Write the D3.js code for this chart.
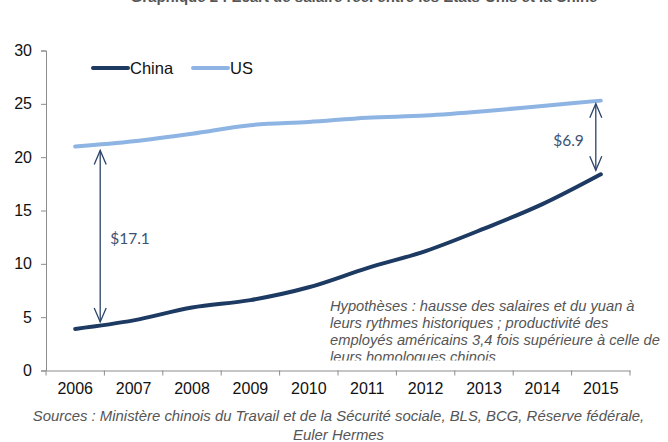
<!DOCTYPE html>
<html>
<head>
<meta charset="utf-8">
<script src="https://cdn.jsdelivr.net/npm/d3@7"></script>
<style>
  html, body { margin: 0; padding: 0; background: #fff; }
  svg { display: block; }
</style>
</head>
<body>
<svg id="chart" width="668" height="442"></svg>
<script>
// Real hourly wage, US vs China (USD)
const years = ["2006", "2007", "2008", "2009", "2010", "2011", "2012", "2013", "2014", "2015"];
const china = [3.9, 4.7, 5.9, 6.6, 7.8, 9.6, 11.2, 13.3, 15.6, 18.4];
const us = [21.0, 21.5, 22.2, 23.0, 23.3, 23.7, 23.9, 24.3, 24.8, 25.3];
const yTicks = [0, 5, 10, 15, 20, 25, 30];
const seriesNames = ["China", "US"];
const gapLabels = ["$17.1", "$6.9"];
const gapYears = ["2006", "2015"];

const colors = { China: "#1d3a63", US: "#8db4e3" };
const series = [
  { name: "China", values: china },
  { name: "US", values: us }
];

const svg = d3.select("#chart");
const margin = { left: 46, right: 38, top: 50.5, bottom: 71.5 };
const W = 668, H = 442;

const x = d3.scaleBand().domain(years).range([margin.left, W - margin.right]);
const y = d3.scaleLinear().domain([0, 30]).range([H - margin.bottom, margin.top]);
const cx = d => x(d) + x.bandwidth() / 2;

// Title (runs off the top edge)
svg.append("text")
  .attr("x", 364).attr("y", 2)
  .attr("text-anchor", "middle")
  .style("font-family", "Liberation Sans, Arial, sans-serif")
  .style("font-weight", "bold")
  .style("font-size", "15px")
  .attr("fill", "#555")
  .text("Graphique 2 : Écart de salaire réel entre les États-Unis et la Chine");

// Y axis
const yAxis = svg.append("g")
  .attr("transform", `translate(${margin.left},0)`)
  .call(d3.axisLeft(y).tickValues(yTicks).tickSize(5).tickPadding(9));
yAxis.select(".domain").attr("stroke", "#8c8c8c");
yAxis.selectAll(".tick line").attr("stroke", "#8c8c8c");
yAxis.selectAll("text")
  .style("font-family", "Liberation Sans, Arial, sans-serif")
  .style("font-size", "16px")
  .attr("fill", "#111");

// X axis: ticks between categories
const xAxis = svg.append("g")
  .attr("transform", `translate(0,${y(0)})`)
  .call(d3.axisBottom(x).tickSize(0).tickPadding(12));
xAxis.select(".domain").attr("stroke", "#8c8c8c");
xAxis.selectAll("text")
  .style("font-family", "Liberation Sans, Arial, sans-serif")
  .style("font-size", "16px")
  .attr("fill", "#111");
const bounds = years.map(d => x(d)).concat([x(years[years.length - 1]) + x.bandwidth()]);
xAxis.selectAll(".sep").data(bounds).enter().append("line")
  .attr("class", "sep")
  .attr("x1", d => d).attr("x2", d => d)
  .attr("y1", 0).attr("y2", 5)
  .attr("stroke", "#8c8c8c");

// Assumptions note, its last line cut by the box bottom
svg.append("clipPath").attr("id", "noteClip")
  .append("rect").attr("x", 300).attr("y", 280).attr("width", 368).attr("height", 80.5);
const note = svg.append("text")
  .attr("clip-path", "url(#noteClip)")
  .style("font-family", "Liberation Sans, Arial, sans-serif")
  .style("font-style", "italic")
  .style("font-size", "14.7px")
  .attr("fill", "#555");
const noteLines = [
  "Hypothèses : hausse des salaires et du yuan à",
  "leurs rythmes historiques ; productivité des",
  "employés américains 3,4 fois supérieure à celle de",
  "leurs homologues chinois"
];
noteLines.forEach((t, i) => {
  note.append("tspan").attr("x", 330).attr("y", 311 + i * 17).text(t);
});

// Lines
const line = d3.line()
  .x((d, i) => cx(years[i]))
  .y(d => y(d))
  .curve(d3.curveMonotoneX);

svg.selectAll(".series").data(series).enter().append("path")
  .attr("class", "series")
  .attr("d", d => line(d.values))
  .attr("fill", "none")
  .attr("stroke", d => colors[d.name])
  .attr("stroke-width", 4)
  .attr("stroke-linecap", "round")
  .attr("stroke-linejoin", "round");

// Gap arrows
const arrowColor = "#2b4468";
function gapArrow(xPos, yTop, yBot) {
  const g = svg.append("g").attr("stroke", arrowColor).attr("fill", "none").attr("stroke-width", 1.3);
  g.append("line").attr("x1", xPos).attr("x2", xPos).attr("y1", yTop).attr("y2", yBot);
  g.append("path").attr("d", `M${xPos - 6},${yTop + 14}L${xPos},${yTop}L${xPos + 6},${yTop + 14}`);
  g.append("path").attr("d", `M${xPos - 6},${yBot - 14}L${xPos},${yBot}L${xPos + 6},${yBot - 14}`);
}
const i0 = years.indexOf(gapYears[0]);
const i1 = years.indexOf(gapYears[1]);
gapArrow(cx(gapYears[0]) + 25, y(us[i0]) + 4, y(china[i0]) - 7);
gapArrow(cx(gapYears[1]) - 5, y(us[i1]) + 3, y(china[i1]) - 4);

svg.append("text")
  .attr("x", cx(gapYears[0]) + 35).attr("y", y((us[i0] + china[i0]) / 2) + 6)
  .style("font-family", "Lato, 'Open Sans', sans-serif")
  .style("font-size", "15.5px")
  .attr("fill", "#3b5274")
  .text(gapLabels[0]);
svg.append("text")
  .attr("x", cx(gapYears[1]) - 17).attr("y", y((us[i1] + china[i1]) / 2) + 9)
  .attr("text-anchor", "end")
  .style("font-family", "Lato, 'Open Sans', sans-serif")
  .style("font-size", "15.5px")
  .attr("fill", "#3b5274")
  .text(gapLabels[1]);

// Legend
const legend = svg.append("g").attr("transform", "translate(93,68)");
const legendX = [0, 100];
seriesNames.forEach((name, i) => {
  const g = legend.append("g").attr("transform", `translate(${legendX[i]},0)`);
  g.append("line").attr("x1", 0).attr("x2", 35).attr("y1", 0).attr("y2", 0)
    .attr("stroke", colors[name]).attr("stroke-width", 4).attr("stroke-linecap", "round");
  g.append("text").attr("x", 37).attr("y", 6)
    .style("font-family", "Liberation Sans, Arial, sans-serif")
    .style("font-size", "16.5px")
    .attr("fill", "#111")
    .text(name);
});

// Sources
const src = svg.append("text")
  .attr("text-anchor", "middle")
  .style("font-family", "Liberation Sans, Arial, sans-serif")
  .style("font-style", "italic")
  .style("font-size", "14.9px")
  .attr("fill", "#555");
src.append("tspan").attr("x", 338.5).attr("y", 421)
  .text("Sources : Ministère chinois du Travail et de la Sécurité sociale, BLS, BCG, Réserve fédérale,");
src.append("tspan").attr("x", 338.5).attr("y", 440).text("Euler Hermes");
</script>
</body>
</html>
